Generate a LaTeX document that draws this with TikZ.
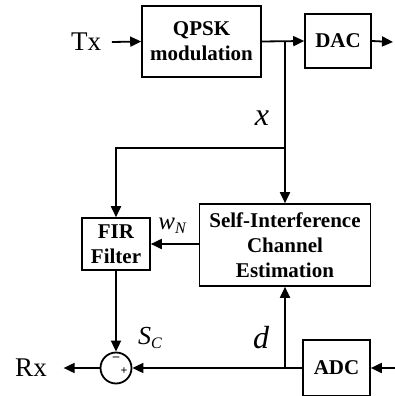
\documentclass[tikz,border=0pt]{standalone}
\usepackage{fontspec}
\setmainfont{Liberation Serif}
\usetikzlibrary{arrows.meta}

\begin{document}
\begin{tikzpicture}
	[x=1pt, y=-1pt, line width=1.8pt, >={Triangle[length=11pt,width=10pt]},
	blk/.style={draw, line width=1.6pt, align=center, inner sep=0pt,
		font=\bfseries\fontsize{21}{25}\selectfont},
	lbl/.style={font=\itshape\fontsize{32}{32}\selectfont, inner sep=0pt},
	io/.style={font=\fontsize{27}{27}\selectfont, inner sep=0pt}]
	\useasboundingbox (0,0) rectangle (395,396);
	% blocks
	\node[blk, minimum width=119, minimum height=71] (qpsk) at (201.5,41.5) {QPSK\\modulation};
	\node[blk, minimum width=66, minimum height=54] (dac) at (338,41) {DAC};
	\node[blk, minimum width=68, minimum height=52] (fir) at (116,244) {FIR\\Filter};
	\node[blk, minimum width=171, minimum height=82] (sice) at (285,245) {Self-Interference\\Channel\\Estimation};
	\node[blk, minimum width=67, minimum height=56] (adc) at (336.5,368) {ADC};
	\node[draw, circle, minimum size=31, inner sep=0pt] (sum) at (116,368) {};
	\node[font=\bfseries\fontsize{13}{13}\selectfont, inner sep=0pt] (minus) at (116,359) {--};
	\node[font=\bfseries\fontsize{12}{12}\selectfont, inner sep=0pt] (plus) at (124,371) {+};
	% inputs and outputs
	\node[io] (tx) at (86,42) {Tx};
	\node[io] (rx) at (31,368) {Rx};
	\coordinate (out) at (393,42);
	\coordinate (in) at (395,368);
	\coordinate (xb) at (sice.north |- qpsk.east);
	\coordinate (split) at (sice.north |- 0,148);
	\coordinate (db) at (sice.south |- adc.west);
	% labels
	\node[lbl] (xlbl) at (262,118) {x};
	\node[lbl] (dlbl) at (261,338) {d};
	\node[lbl, font=\itshape\fontsize{25}{25}\selectfont] (wlbl) at (172,226) {w\raisebox{-0.35ex}{\fontsize{16}{16}\selectfont N}};
	\node[lbl, font=\itshape\fontsize{26}{26}\selectfont] (slbl) at (150,338) {S\raisebox{-0.4ex}{\fontsize{16}{16}\selectfont C}};
	% connectors
	\draw[->] (tx.east) ++(10,0) -- (qpsk.west);
	\draw[->] (qpsk.east) -- (dac.west);
	\draw[->] (dac.east) -- (out);
	\draw[->] (xb) -- (sice.north);
	\draw[->] (split) -| (fir.north);
	\draw[->] (sice.west |- fir.east) -- (fir.east);
	\draw[->] (fir.south) -- (sum.north);
	\draw[->] (in) -- (adc.east);
	\draw[->] (adc.west) -- (sum.east);
	\draw[->] (db) -- (sice.south);
	\draw[->] (sum.west) -- ++(-36,0);
\end{tikzpicture}
\end{document}
